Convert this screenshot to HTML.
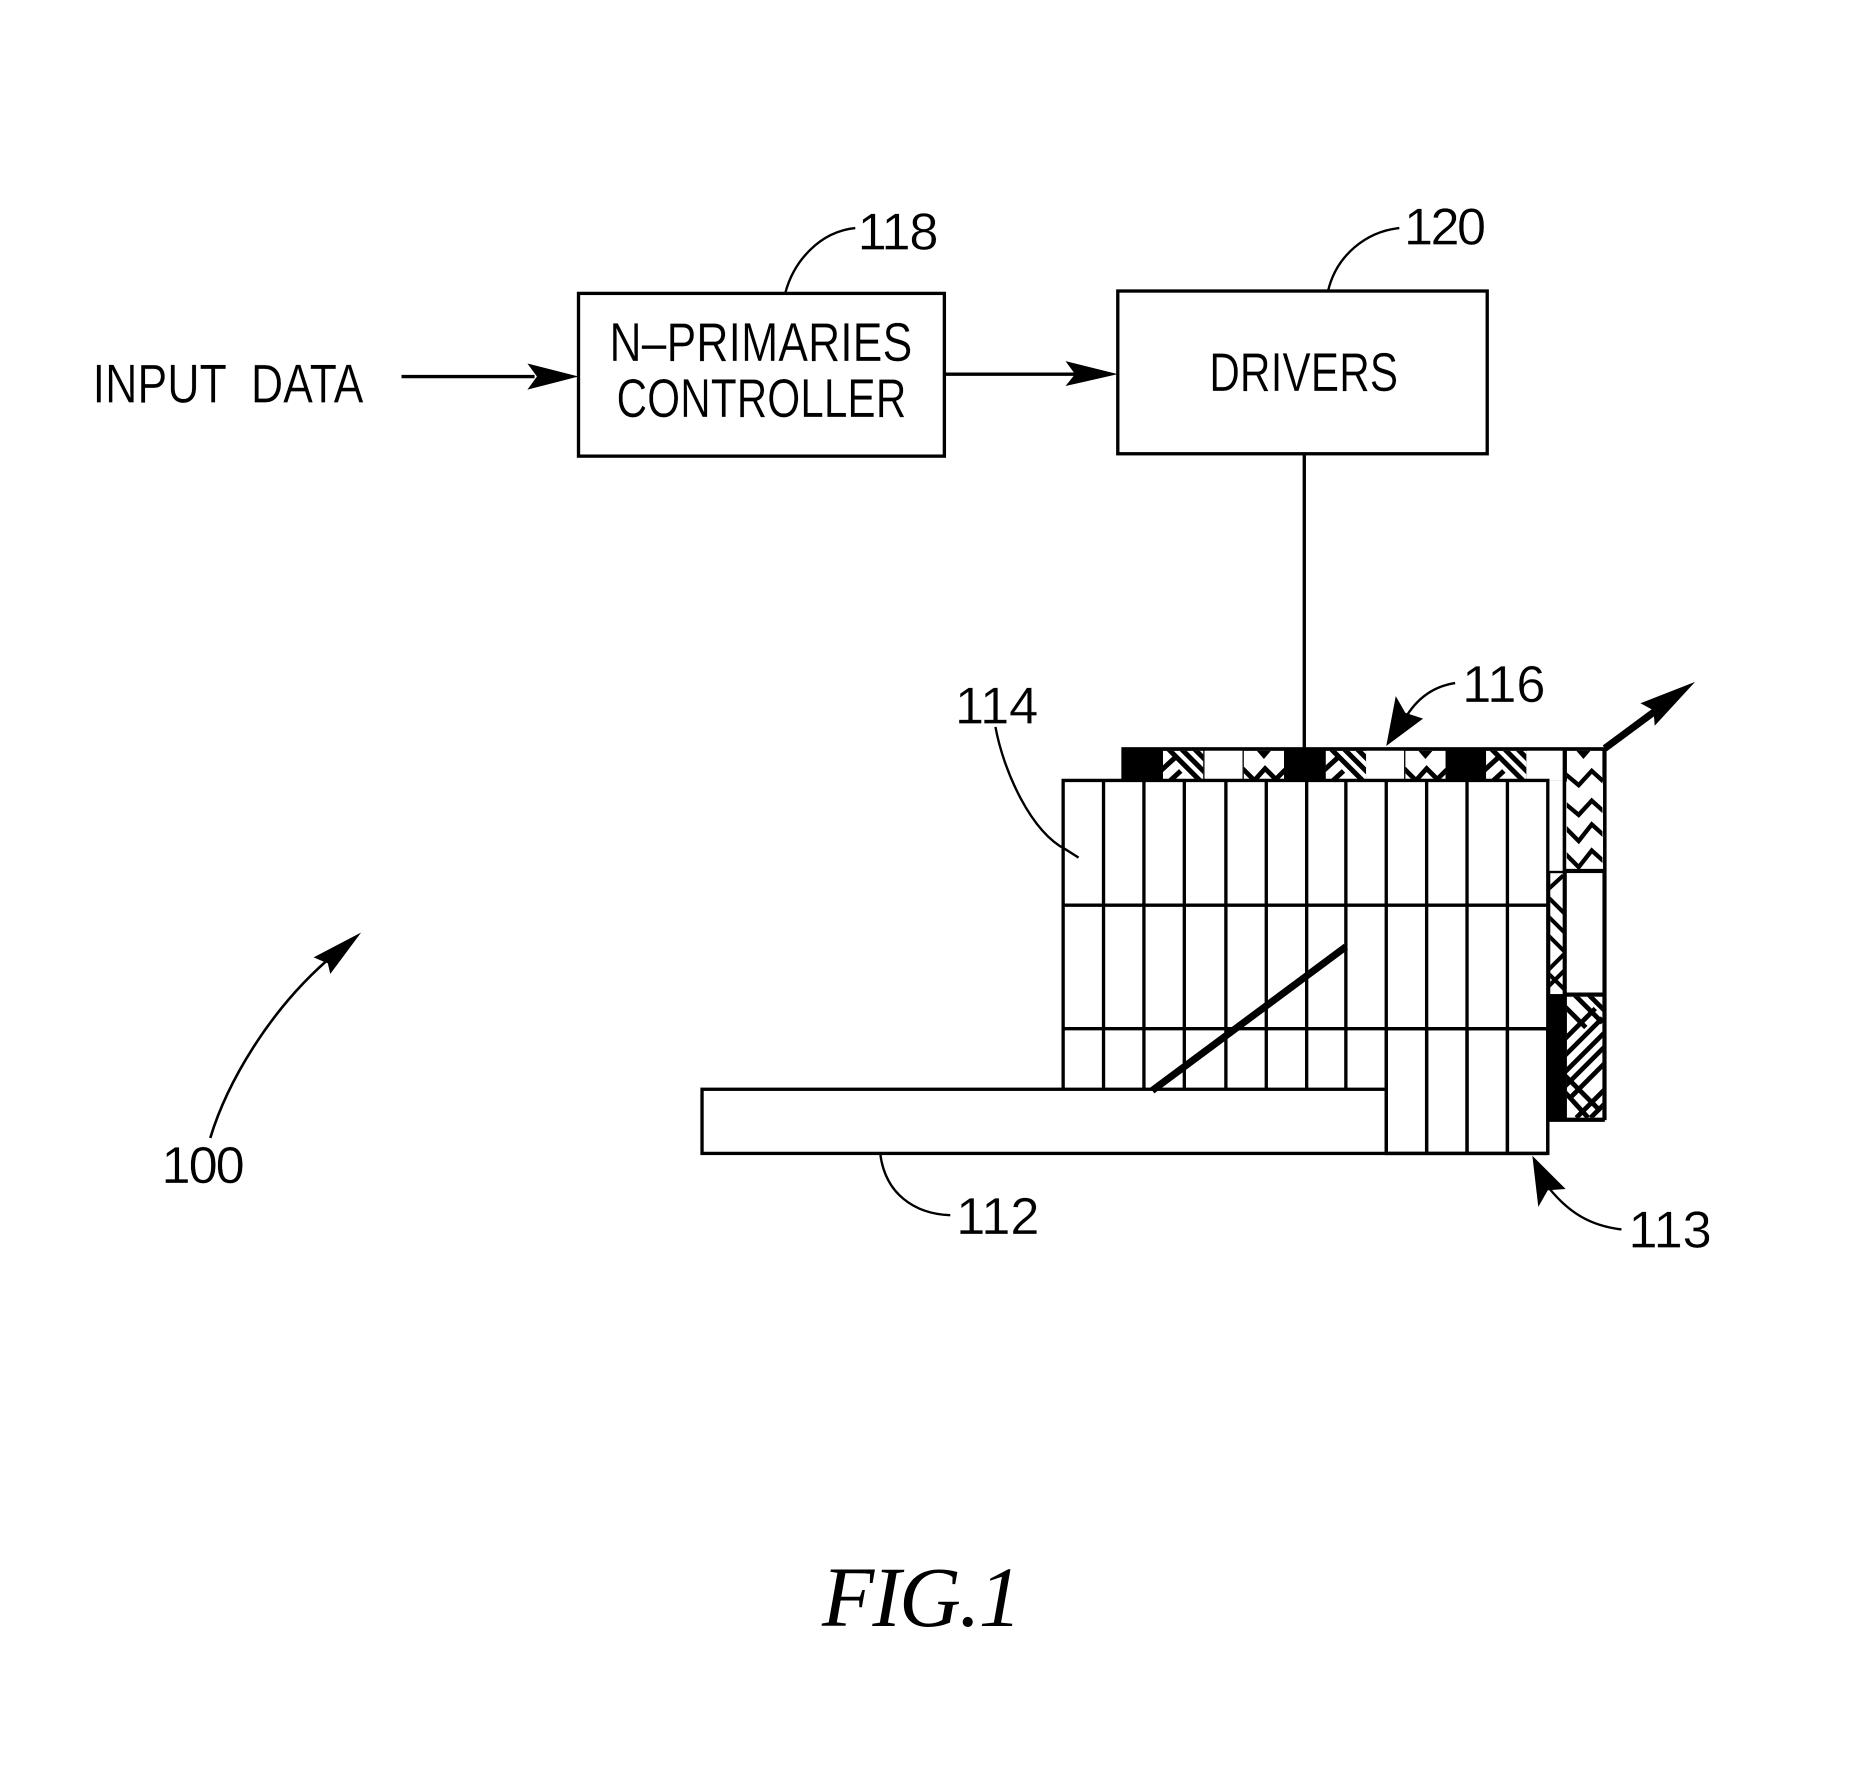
<!DOCTYPE html>
<html><head><meta charset="utf-8"><style>
html,body{margin:0;padding:0;background:#fff;width:1862px;height:1785px;overflow:hidden}
svg{display:block}
text{font-family:"Liberation Sans",sans-serif;fill:#000;stroke:#fff;stroke-width:0.3}
</style></head><body>
<svg width="1862" height="1785" viewBox="0 0 1567.5 1502.7" xmlns="http://www.w3.org/2000/svg">
<defs>
<g id="hatA"><svg width="34" height="27" viewBox="0 0 34 27">
<rect width="34" height="27" fill="#fff"/>
<g stroke="#000" stroke-width="4.2" fill="none">
<path d="M3,-3L33,27M14,-3L38,21M25,-3L38,10"/>
<path d="M-2,17L10,6M2,29L15,17"/>
</g></svg></g>
<g id="wave"><svg width="34" height="27" viewBox="0 0 34 27">
<rect width="34" height="27" fill="#fff"/>
<path d="M11,0L17,7L23,0Z" fill="#000"/>
<path d="M-1,15L9,25L18,15L27,24L35,16" stroke="#000" stroke-width="4" fill="none"/>
<path d="M-1,19V27H6ZM13,27H23L18,20ZM28,27H35V20Z" fill="#000" opacity="0"/>
</svg></g>
</defs>
<rect width="1567.5" height="1502.7" fill="#fff"/>
<g fill="#fff" stroke="#000" stroke-width="2.8">
<rect x="487" y="247" width="308" height="137"/>
<rect x="941" y="245" width="311" height="137"/>
</g>
<g stroke="#000" fill="none">
<path d="M338,317H450" stroke-width="2.8"/>
<path d="M795,315H905" stroke-width="2.8"/>
<path d="M1098,382V630" stroke-width="2.8"/>
<path d="M661,247C668,220 690,195 720,192" stroke-width="2"/>
<path d="M1118,245C1125,215 1150,195 1178,192" stroke-width="2"/>
<path d="M177,958C190,915 225,850 283,802" stroke-width="2.2"/>
<path d="M741,971C745,1005 770,1022 800,1023" stroke-width="2"/>
<path d="M1300,995C1320,1022 1340,1032 1365,1035" stroke-width="2"/>
<path d="M1180,610C1190,590 1205,578 1225,575" stroke-width="2"/>
</g>
<g fill="#000">
<path d="M487,317L444,306L452,317L444,328Z"/>
<path d="M941,315L897,304L905,315L897,325Z"/>
<path d="M304,785L264,806L276,811L278,820Z"/>
<path d="M1167,628L1175,586L1183,600L1198,605Z"/>
<path d="M1290,973L1295,1016L1303,1002L1318,1001Z"/>
<path d="M1427,574L1381,592L1392,598L1393,611Z"/>
</g>
<path d="M1351,630L1397,596" stroke="#000" stroke-width="6" fill="none"/>

<!-- top strip -->
<rect x="944" y="629" width="407" height="29" fill="#000"/>
<use href="#hatA" x="979" y="632"/>
<rect x="1014" y="632" width="32" height="25" fill="#fff"/>
<use href="#wave" x="1047" y="632"/>
<use href="#hatA" x="1116" y="632"/>
<rect x="1150" y="632" width="32" height="25" fill="#fff"/>
<use href="#wave" x="1183" y="632"/>
<use href="#hatA" x="1251" y="632"/>
<rect x="1285" y="632" width="32" height="25" fill="#fff"/>

<!-- right columns -->
<rect x="1303" y="733" width="48" height="210" fill="#000"/>
<rect x="1304" y="657" width="13" height="76" fill="#fff"/>
<svg x="1305" y="735" width="11" height="102" viewBox="0 0 11 102">
<rect width="11" height="102" fill="#fff"/>
<g stroke="#000" stroke-width="3.4" fill="none">
<path d="M-2,14L11,2M-2,20L14,36M-2,36L14,52M-2,52L14,68M-2,82L12,68M-2,96L12,82M-2,84L14,100"/>
</g></svg>
<rect x="1304" y="837" width="13" height="106" fill="#000"/>
<svg x="1319" y="632" width="30" height="100" viewBox="0 0 30 100">
<rect width="30" height="100" fill="#fff"/>
<path d="M8,0L14,7L20,0Z" fill="#000"/>
<g stroke="#000" stroke-width="3.6" fill="none">
<path d="M-2,19L10,29L21,17L32,27"/>
<path d="M-2,44L10,54L21,42L32,52"/>
<path d="M-2,64L10,76L21,62L32,72"/>
<path d="M-2,86L10,98L21,84L32,94"/>
</g></svg>
<rect x="1319" y="735" width="30" height="101" fill="#fff"/>
<svg x="1319" y="839" width="30" height="102" viewBox="0 0 30 102">
<rect width="30" height="102" fill="#fff"/>
<g stroke="#000" stroke-width="4" fill="none">
<path d="M-2,8L16,26M6,-2L30,22M18,-2L32,12"/>
<path d="M-2,36L24,10M-2,50L30,18M-2,64L32,30M-2,76L32,42M4,84L32,56"/>
<path d="M-2,66L26,94M-2,80L18,102"/>
<path d="M8,102L32,78M20,102L32,90"/>
</g></svg>
<path d="M1317,630V943M1351,630V943M1303,943H1351M1317,733H1351M1317,837H1351" stroke="#000" stroke-width="3" fill="none"/>

<!-- grid -->
<rect x="895" y="657" width="408" height="260" fill="#fff"/>
<g stroke="#000" stroke-width="2.8" fill="none">
<path d="M895,917V657H1303V971"/>
<path d="M929,657V917M963,657V917M997,657V917M1032,657V917M1066,657V917M1100,657V917M1133,657V917"/>
<path d="M1167,657V971M1201,657V971M1235,657V971M1269,657V971"/>
<path d="M895,762H1303M895,866H1303"/>
</g>
<rect x="591" y="917" width="576" height="54" fill="#fff" stroke="#000" stroke-width="2.8"/>
<rect x="1167" y="866" width="136" height="105" fill="none" stroke="#000" stroke-width="2.8"/>
<path d="M1167,971H1303M1201,866V971M1235,866V971M1269,866V971" stroke="#000" stroke-width="2.8" fill="none"/>
<path d="M970,918L1133,797" stroke="#000" stroke-width="6" fill="none"/>
<path d="M838,612C845,650 868,700 897,715L908,722" stroke="#000" stroke-width="2" fill="none"/>

<g font-size="46">
<text x="78" y="339" textLength="228" lengthAdjust="spacingAndGlyphs" xml:space="preserve">INPUT  DATA</text>
<text x="513" y="304" textLength="255" lengthAdjust="spacingAndGlyphs">N–PRIMARIES</text>
<text x="519" y="351" textLength="244" lengthAdjust="spacingAndGlyphs">CONTROLLER</text>
<text x="1018" y="329" textLength="159" lengthAdjust="spacingAndGlyphs">DRIVERS</text>
</g>
<g font-size="44">
<text x="722" y="210" textLength="68" lengthAdjust="spacing">118</text>
<text x="1182" y="206" textLength="69" lengthAdjust="spacing">120</text>
<text x="1231" y="591" textLength="70" lengthAdjust="spacing">116</text>
<text x="804" y="609" textLength="70" lengthAdjust="spacing">114</text>
<text x="136" y="996" textLength="70" lengthAdjust="spacing">100</text>
<text x="805" y="1039" textLength="70" lengthAdjust="spacing">112</text>
<text x="1371" y="1050" textLength="70" lengthAdjust="spacing">113</text>
</g>
<text x="692" y="1369" font-size="72" font-style="italic" textLength="168" lengthAdjust="spacing" style="font-family:'Liberation Serif',serif;stroke:none">FIG.1</text>
</svg>
</body></html>
